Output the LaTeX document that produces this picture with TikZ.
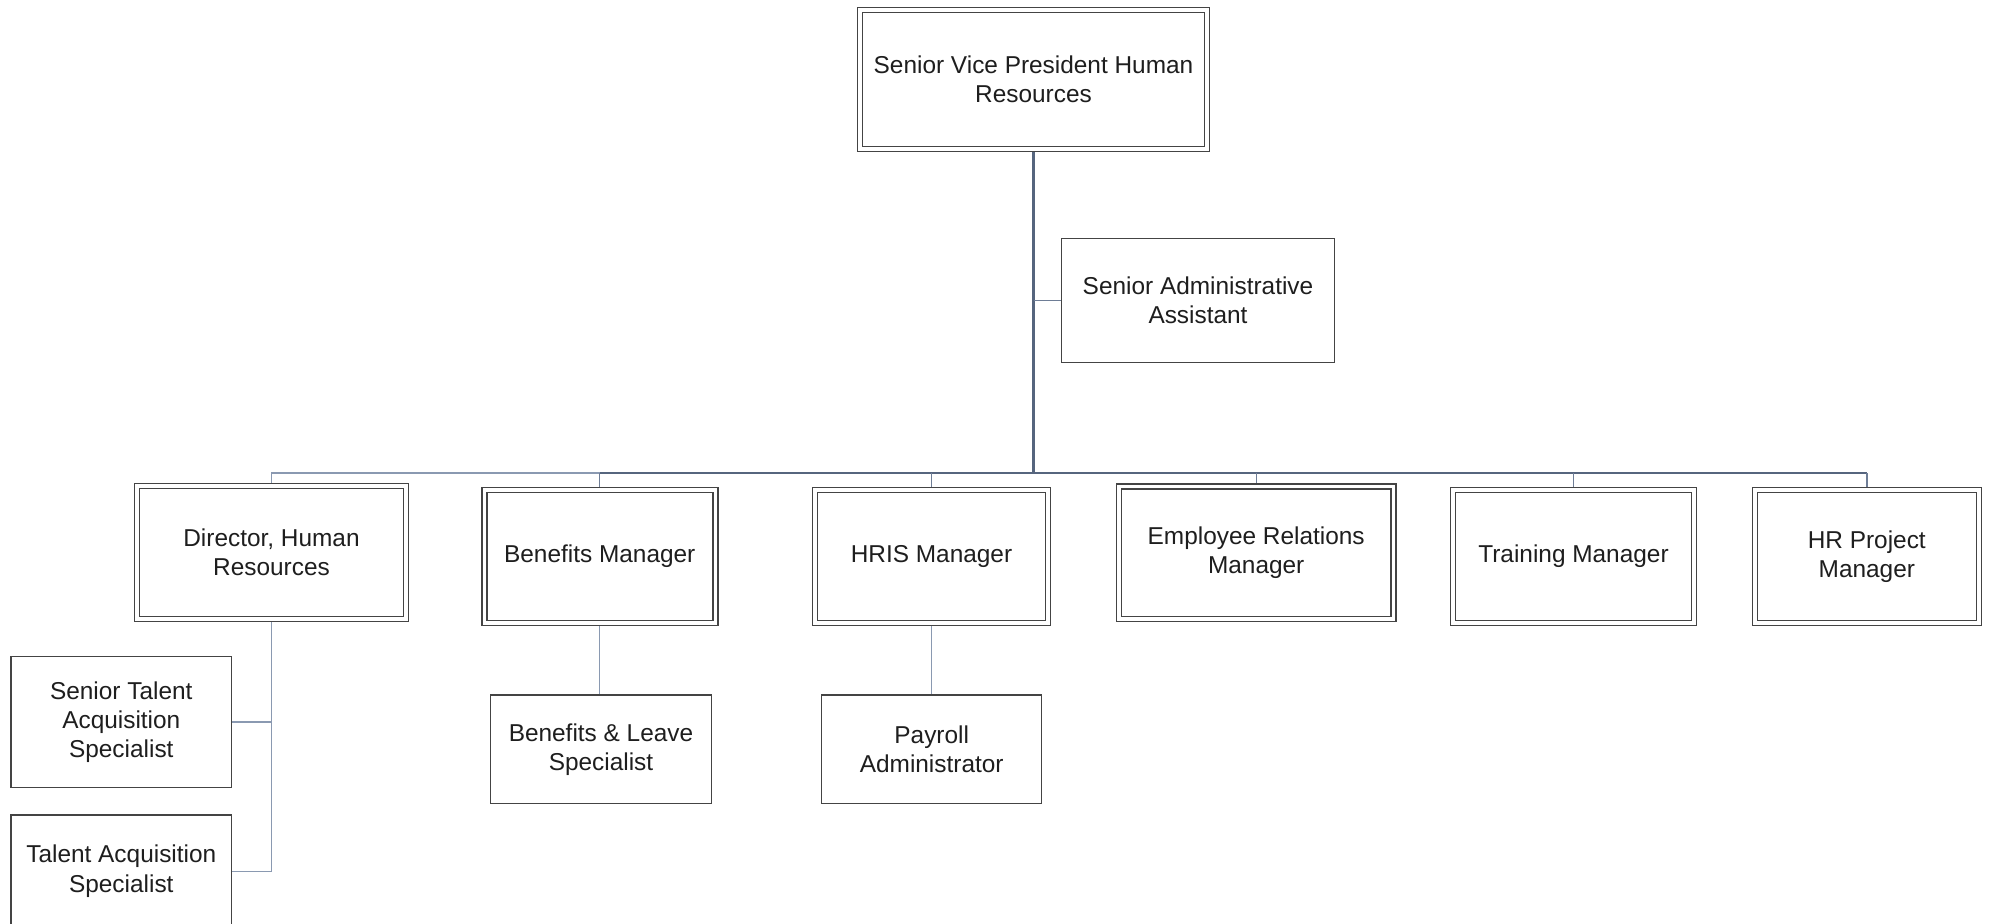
\documentclass[tikz,border=0pt]{standalone}
\usepackage{fontspec}
\setmainfont{Liberation Sans}
\usetikzlibrary{backgrounds}
\definecolor{boxline}{HTML}{444444}
\definecolor{linkdark}{HTML}{56657E}
\definecolor{linkmid}{HTML}{6E7D96}
\definecolor{linklight}{HTML}{8A99B1}
\definecolor{txt}{HTML}{1E1E1E}

\begin{document}
\begin{tikzpicture}[x=0.5pt,y=-0.5pt,
  every node/.style={font=\fontsize{12.2pt}{14.6pt}\selectfont, text=txt,
    align=center, inner sep=0pt},
  post/.style={draw=boxline, line width=0.75pt, fill=white, rectangle},
  lead/.style={post, double=white, double distance=1.75pt},
  trunk/.style={draw=linkdark, line width=1.9pt},
  busdark/.style={draw=linkdark, line width=1pt},
  drop/.style={draw=linkmid, line width=0.7pt},
  thin/.style={draw=linklight, line width=0.55pt}]

\useasboundingbox (0,0) rectangle (1990,924);

% --- positions ---
\node[lead, minimum width=173.3pt, minimum height=69.3pt] (top) at (1033.5,79.5)
  {Senior Vice President Human\\Resources};
\node[post, minimum width=136.3pt, minimum height=61.8pt] (admin) at (1198,300.5)
  {Senior Administrative\\Assistant};

\node[lead, minimum width=134.3pt, minimum height=66.3pt] (director) at (271.5,552.5)
  {Director, Human\\Resources};
\node[lead, minimum width=115.5pt, minimum height=66.3pt] (benmgr) at (599.75,556.5)
  {Benefits Manager};
\node[lead, minimum width=116.3pt, minimum height=66.3pt] (hris) at (931.5,556.5)
  {HRIS Manager};
\node[lead, minimum width=137.3pt, minimum height=66.3pt] (erm) at (1256.2,552.8)
  {Employee Relations\\Manager};
\node[lead, minimum width=120.3pt, minimum height=66.3pt] (training) at (1573.5,556.5)
  {Training Manager};
\node[lead, minimum width=112pt, minimum height=66.3pt] (hrproj) at (1866.8,556.5)
  {HR Project\\Manager};

\node[post, minimum width=110.3pt, minimum height=65.6pt] (sta) at (121.3,722)
  {Senior Talent\\Acquisition\\Specialist};
\node[post, minimum width=110.3pt, minimum height=56.2pt] (ta) at (121.3,871.2)
  {Talent Acquisition\\Specialist};
\node[post, minimum width=110.3pt, minimum height=54.3pt] (benleave) at (601,749.3)
  {Benefits \& Leave\\Specialist};
\node[post, minimum width=110pt, minimum height=54.3pt] (payroll) at (931.7,749.3)
  {Payroll\\Administrator};

\coordinate (bus) at (1033.5,473);

% --- reporting lines ---
\begin{pgfonlayer}{background}
  % left run of the bus, lighter
  \draw[thin] (director.north) |- (bus);
  % main run of the bus and drops
  \draw[busdark] (benmgr.north |- bus) -- (hrproj.north |- bus);
  \draw[drop] (benmgr.north) -- (benmgr.north |- bus);
  \draw[drop] (hris.north) -- (hris.north |- bus);
  \draw[drop] (erm.north) -- (erm.north |- bus);
  \draw[drop] (training.north) -- (training.north |- bus);
  \draw[drop] (hrproj.north) -- (hrproj.north |- bus);
  % trunk and assistant
  \draw[trunk] (top.south) -- (bus);
  \draw[drop] (top.south |- admin.west) -- (admin.west);
  % director's reports
  \draw[thin] (director.south) |- (ta.east);
  \draw[thin] (director.south |- sta.east) -- (sta.east);
  % single reports
  \draw[thin] (benmgr.south) -- (benmgr.south |- benleave.north);
  \draw[thin] (hris.south) -- (hris.south |- payroll.north);
\end{pgfonlayer}
\end{tikzpicture}
\end{document}
